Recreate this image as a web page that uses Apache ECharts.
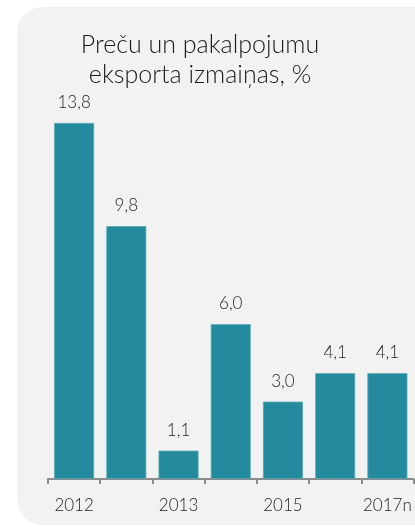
<!DOCTYPE html>
<html>
<head>
<meta charset="utf-8">
<script src="https://cdn.jsdelivr.net/npm/echarts@6/dist/echarts.min.js"></script>
<style>
html, body { margin: 0; padding: 0; background: #fff; }
#main { width: 415px; height: 527px; }
</style>
</head>
<body>
<div id="main"></div>
<script>
var years = ['2012', '', '2013', '', '2015', '', '2017n'];
var values = [13.8, 9.8, 1.1, 6.0, 3.0, 4.1, 4.1];
var titleText = 'Preču un pakalpojumu\neksporta izmaiņas, %';

var colors = [
	'#238b9d',   // stabiņi
	'#f2f2f2',   // fons
	'#1f1f1f',   // teksts
	'#8c8c8c'    // ass
];

var chart = echarts.init(document.getElementById('main'));
chart.setOption({
	backgroundColor: '#fff',
	animation: false,
	graphic: [{
		type: 'rect',
		z: -10,
		shape: { x: 17, y: 7, width: 440, height: 518, r: 26 },
		style: { fill: colors[1] }
	}],
	title: {
		text: titleText,
		left: 195,
		top: 25,
		textAlign: 'center',
		textStyle: {
			fontFamily: 'Lato',
			fontWeight: 300,
			fontSize: 25,
			lineHeight: 30,
			color: '#1a1a1a'
		}
	},
	grid: { left: 48, right: 1.5, top: 92, bottom: 48 },
	xAxis: {
		type: 'category',
		data: years,
		axisLine: { lineStyle: { color: colors[3], width: 2 } },
		axisTick: { show: true, length: 5, lineStyle: { color: colors[3], width: 2 } },
		axisLabel: {
			interval: 0,
			margin: 18,
			fontFamily: 'Lato',
			fontWeight: 300,
			fontSize: 17,
			color: colors[2]
		}
	},
	yAxis: {
		type: 'value',
		min: 0, max: 15,
		show: false,
		splitLine: { show: false }
	},
	series: [{
		type: 'bar',
		data: values,
		barWidth: 40,
		itemStyle: { color: colors[0], borderColor: '#5aaab8', borderWidth: 0.8 },
		label: {
			show: true,
			position: 'top',
			distance: 12,
			fontFamily: 'Lato',
			fontWeight: 300,
			fontSize: 17,
			color: colors[2],
			formatter: function (p) { return p.value.toFixed(1).replace('.', ','); }
		}
	}]
});
</script>
</body>
</html>
